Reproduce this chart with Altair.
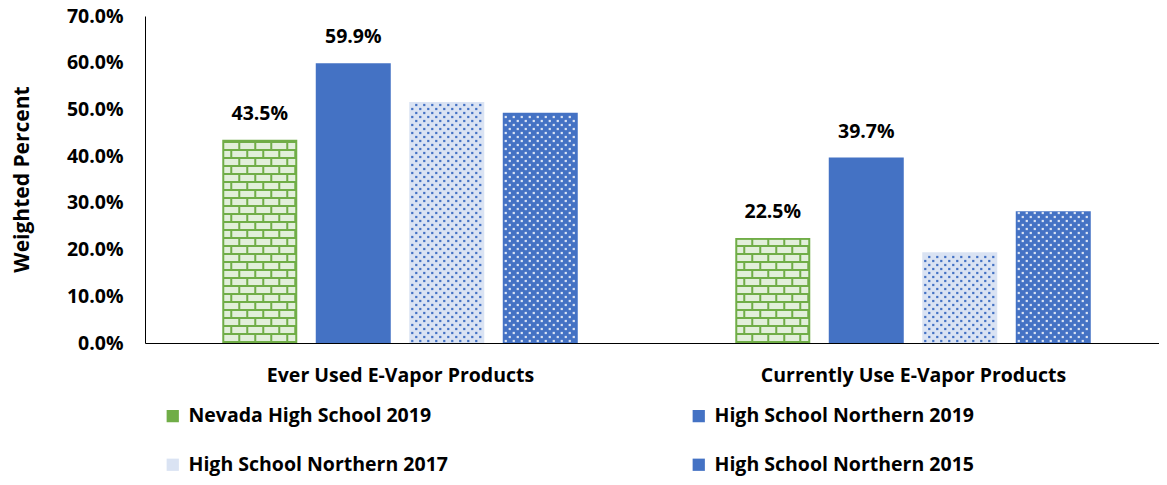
import altair as alt
import pandas as pd

# ---- data ----
categories = ["Ever Used E-Vapor Products", "Currently Use E-Vapor Products"]
series = [
    "Nevada High School 2019",
    "High School Northern 2019",
    "High School Northern 2017",
    "High School Northern 2015",
]
ever_used = [0.435, 0.599, 0.516, 0.493]
current_use = [0.225, 0.397, 0.194, 0.282]
labelled_series = ["Nevada High School 2019", "High School Northern 2019"]

# ---- styles ----
bar_fill = ["#70AD47", "#4472C4", "#DAE3F3", "#4472C4"]
FONT = "Open Sans"
FS = 19.5
W, H = 1014, 327
XMIN, XMAX = -0.4971, 1.4795
YMAX = 0.7
PXX = W / (XMAX - XMIN)      # pixels per x unit
PXY = H / YMAX                # pixels per y unit
STEP = 93.5 / PXX
BARW = 75 / PXX

rows = []
for ci, (cat, vals) in enumerate(zip(categories, [ever_used, current_use])):
    for si, (s, v) in enumerate(zip(series, vals)):
        rows.append({"cat": cat, "ci": ci, "series": s, "si": si, "value": v})
df = pd.DataFrame(rows)

base = alt.Chart(df).transform_calculate(
    center=f"datum.ci + (datum.si - 1.5) * {STEP}",
).transform_calculate(
    x1=f"datum.center - {BARW / 2}",
    x2=f"datum.center + {BARW / 2}",
)

xscale = alt.Scale(domain=[XMIN, XMAX], nice=False, zero=False)
yscale = alt.Scale(domain=[0, YMAX], nice=False)

x_axis = alt.Axis(
    values=[0, 1],
    labelExpr="datum.value < 0.5 ? 'Ever Used E-Vapor Products' : 'Currently Use E-Vapor Products'",
    ticks=False, grid=False, title=None,
    domainColor="#000000", domainWidth=1,
    labelFont=FONT, labelFontSize=FS, labelFontWeight="bold", labelColor="#000000",
    labelPadding=23, labelFlush=False, labelOverlap=False, labelLimit=500,
)
y_axis = alt.Axis(
    values=[0, 0.1, 0.2, 0.3, 0.4, 0.5, 0.6, 0.7], format=".1%",
    ticks=False, grid=False,
    domainColor="#000000", domainWidth=1,
    labelFont=FONT, labelFontSize=FS, labelFontWeight="bold", labelColor="#000000",
    labelPadding=22,
    title="Weighted Percent", titleFont=FONT, titleFontSize=21, titleFontWeight="bold",
    titleColor="#000000", titleX=-123, titleY=163, titleBaseline="middle", titleAngle=270,
)

bars = base.mark_rect(strokeWidth=0).encode(
    x=alt.X("x1:Q", scale=xscale, axis=x_axis),
    x2="x2:Q",
    y=alt.Y("value:Q", scale=yscale, axis=y_axis),
    y2=alt.datum(0),
    color=alt.Color(
        "series:N",
        scale=alt.Scale(domain=series, range=bar_fill),
        legend=alt.Legend(
            title=None, orient="none", legendX=18, legendY=390, columns=2,
            direction="horizontal",
            columnPadding=241, rowPadding=28, padding=0,
            symbolType="square", symbolSize=150, symbolStrokeWidth=0,
            labelFont=FONT, labelFontSize=19.5, labelFontWeight="bold", labelColor="#000000",
            labelOffset=6, labelLimit=400,
        ),
    ),
)

# brick texture for Nevada bars
bricks = base.transform_filter(
    alt.datum.series == series[0]
).transform_calculate(
    vpx=f"datum.value * {PXY}",
).transform_calculate(
    row="sequence(0, ceil(datum.vpx / 8))",
).transform_flatten(["row"]).transform_calculate(
    col="sequence(-1, 6)",
).transform_flatten(["col"]).transform_calculate(
    bl="16 * datum.col + (datum.row % 2) * 8 + 2",
).transform_calculate(
    lpx="max(datum.bl, 2)",
    rpx="min(datum.bl + 14, 73)",
    bpx="8 * datum.row + 2",
    tpx="min(8 * datum.row + 8, datum.vpx - 2)",
).transform_filter(
    "datum.rpx - datum.lpx > 0.5 && datum.tpx - datum.bpx > 0.5"
).transform_calculate(
    bx1=f"datum.x1 + datum.lpx / {PXX}",
    bx2=f"datum.x1 + datum.rpx / {PXX}",
    by1=f"datum.bpx / {PXY}",
    by2=f"datum.tpx / {PXY}",
).mark_rect(fill="#E2EFDA", strokeWidth=0).encode(
    x=alt.X("bx1:Q", scale=xscale, axis=x_axis),
    x2="bx2:Q",
    y=alt.Y("by1:Q", scale=yscale, axis=y_axis),
    y2="by2:Q",
)

# dot texture for 2017 / 2015 bars
dots = base.transform_filter(
    (alt.datum.series == series[2]) | (alt.datum.series == series[3])
).transform_calculate(
    vpx=f"datum.value * {PXY}",
    dotcolor=f"datum.series == '{series[2]}' ? '#4472C4' : '#DAE3F3'",
).transform_calculate(
    row="sequence(0, ceil(datum.vpx / 4))",
).transform_flatten(["row"]).transform_calculate(
    col="sequence(0, 10)",
).transform_flatten(["col"]).transform_calculate(
    px="3 + 8 * datum.col + (datum.row % 2) * 4",
    py="2 + 4 * datum.row",
).transform_filter(
    "datum.px <= 73 && datum.py <= datum.vpx - 1.5"
).transform_calculate(
    dx=f"datum.x1 + datum.px / {PXX}",
    dy=f"datum.py / {PXY}",
).mark_square(size=5, opacity=1, filled=True).encode(
    x=alt.X("dx:Q", scale=xscale, axis=x_axis),
    y=alt.Y("dy:Q", scale=yscale, axis=y_axis),
    fill=alt.Fill("dotcolor:N", scale=None),
)

labels = base.transform_filter(
    alt.FieldOneOfPredicate(field="series", oneOf=labelled_series)
).mark_text(
    font=FONT, fontSize=FS, fontWeight="bold", color="#000000",
    baseline="alphabetic", align="center", dy=-20,
).encode(
    x=alt.X("center:Q", scale=xscale, axis=x_axis),
    y=alt.Y("value:Q", scale=yscale, axis=y_axis),
    text=alt.Text("value:Q", format=".1%"),
)

chart = alt.layer(bars, bricks, dots, labels).properties(
    width=W, height=H,
    padding={"left": 137, "top": 8, "right": 0, "bottom": 134},
    autosize=alt.AutoSizeParams(type="none"),
    background="#FFFFFF",
).configure_view(stroke=None)

chart.save("out.html", embed_options={"renderer": "svg", "actions": False})
